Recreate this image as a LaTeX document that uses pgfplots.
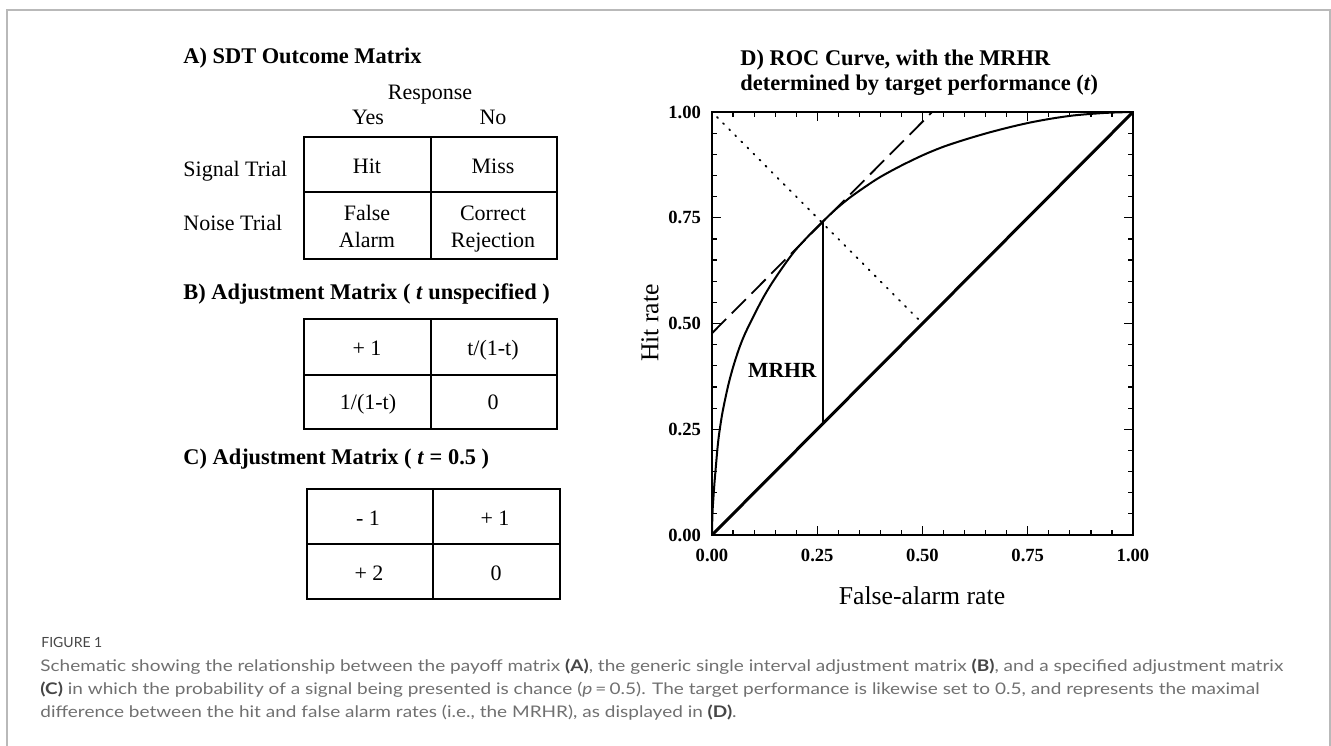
\documentclass[border=0pt]{standalone}
\usepackage{pgfplots}
\pgfplotsset{compat=1.18}
\usepackage{fontspec}
\usepackage{graphicx}
\setmainfont{Liberation Serif}
\newfontfamily\capfont{Lato}
\definecolor{framegray}{RGB}{185,185,185}
\definecolor{captext}{RGB}{112,112,112}
\definecolor{capbold}{RGB}{70,70,70}
\newcommand\titlefont{\fontsize{11.2}{13}\selectfont\bfseries}
\newcommand\bodyfont{\fontsize{11}{13}\selectfont}
\newcommand\capsize{\capfont\fontsize{8}{10}\selectfont}
\newsavebox\capbox
\newlength\capw
\begin{document}%
\sbox\capbox{\capsize Schematic showing the relationship between the payoff matrix \textbf{(A)}, the generic single interval adjustment matrix \textbf{(B)}, and a specified adjustment matrix}%
\setlength\capw{\wd\capbox}%
\pgfmathsetmacro\capsx{621.5pt/\capw}%
\begin{tikzpicture}
\begin{scope}[x=0.5pt,y=-0.5pt]
\path[use as bounding box] (0,0) rectangle (1331,745);
\draw[framegray, line width=0.75pt] (7,746)--(7,10)--(1330,10)--(1330,746);

% ---------- Panel A ----------
\node[anchor=base west, inner sep=0] at (183,63) {\titlefont A) SDT Outcome Matrix};
\node[anchor=base, inner sep=0] at (430,99) {\bodyfont Response};
\node[anchor=base, inner sep=0] at (368,124) {\bodyfont Yes};
\node[anchor=base, inner sep=0] at (493,124) {\bodyfont No};
\node[anchor=base west, inner sep=0] at (183,176) {\bodyfont Signal Trial};
\node[anchor=base west, inner sep=0] at (183,230) {\bodyfont Noise Trial};
\draw[line width=1pt] (304,137) rectangle (557,259);
\draw[line width=1pt] (304,192)--(557,192);
\draw[line width=1pt] (431,137)--(431,259);
\node[anchor=base, inner sep=0] at (367,173) {\bodyfont Hit};
\node[anchor=base, inner sep=0] at (493,173) {\bodyfont Miss};
\node[anchor=base, inner sep=0] at (367,220) {\bodyfont False};
\node[anchor=base, inner sep=0] at (367,247) {\bodyfont Alarm};
\node[anchor=base, inner sep=0] at (493,220) {\bodyfont Correct};
\node[anchor=base, inner sep=0] at (493,247) {\bodyfont Rejection};

% ---------- Panel B ----------
\node[anchor=base west, inner sep=0] at (183,299) {\titlefont B) Adjustment Matrix ( \textit{t} unspecified )};
\draw[line width=1pt] (304,319) rectangle (557,429);
\draw[line width=1pt] (304,375)--(557,375);
\draw[line width=1pt] (431,319)--(431,429);
\node[anchor=base, inner sep=0] at (367,355) {\bodyfont + 1};
\node[anchor=base, inner sep=0] at (493,355) {\bodyfont t/(1-t)};
\node[anchor=base, inner sep=0] at (368,409) {\bodyfont 1/(1-t)};
\node[anchor=base, inner sep=0] at (493,409) {\bodyfont 0};

% ---------- Panel C ----------
\node[anchor=base west, inner sep=0] at (183,464) {\titlefont C) Adjustment Matrix ( \textit{t} = 0.5 )};
\draw[line width=1pt] (307,489) rectangle (560,599);
\draw[line width=1pt] (307,544)--(560,544);
\draw[line width=1pt] (433,489)--(433,599);
\node[anchor=base, inner sep=0] at (368,525) {\bodyfont - 1};
\node[anchor=base, inner sep=0] at (495,525) {\bodyfont + 1};
\node[anchor=base, inner sep=0] at (369,580) {\bodyfont + 2};
\node[anchor=base, inner sep=0] at (496,580) {\bodyfont 0};

% ---------- Panel D texts ----------
\node[anchor=base west, inner sep=0] at (740,65) {\titlefont D) ROC Curve, with the MRHR};
\node[anchor=base west, inner sep=0] at (740,90) {\titlefont determined by target performance (\textit{t})};
\node[inner sep=0] at (922,596) {\fontsize{12.85}{15}\selectfont False-alarm rate};
\node[inner sep=0, rotate=90] at (650,323) {\fontsize{12.85}{15}\selectfont Hit rate};

% ---------- Caption ----------
\node[anchor=base west, inner sep=0, text=capbold] at (41,647) {\capfont\fontsize{7}{9}\selectfont FIGURE 1};
\node[anchor=base west, inner sep=0, text=captext] at (40,671) {\scalebox{\capsx}[1]{\capsize Schematic showing the relationship between the payoff matrix \textcolor{capbold}{\textbf{(A)}}, the generic single interval adjustment matrix \textcolor{capbold}{\textbf{(B)}}, and a specified adjustment matrix}};
\node[anchor=base west, inner sep=0, text=captext] at (40,694) {\scalebox{\capsx}[1]{\capsize \textcolor{capbold}{\textbf{(C)}} in which the probability of a signal being presented is chance (\textit{p}\,=\,0.5). The target performance is likewise set to 0.5, and represents the maximal}};
\node[anchor=base west, inner sep=0, text=captext] at (40,717) {\scalebox{\capsx}[1]{\capsize difference between the hit and false alarm rates (i.e., the MRHR), as displayed in \textcolor{capbold}{\textbf{(D)}}.}};
\end{scope}

\begin{axis}[
  at={(356pt,-267.5pt)}, anchor=south west,
  width=210.5pt, height=211.5pt, scale only axis,
  xmin=0, xmax=1, ymin=0, ymax=1,
  xtick={0,0.25,0.5,0.75,1}, ytick={0,0.25,0.5,0.75,1},
  minor tick num=4,
  tick align=inside,
  major tick length=4.5pt, minor tick length=2.5pt,
  axis line style={line width=1pt},
  tick style={black, line width=0.6pt},
  ticklabel style={font=\fontsize{9.3}{11}\selectfont\bfseries},
  xticklabel style={yshift=-3.5pt},
  yticklabel style={xshift=-2pt},
  /pgf/number format/fixed,
  /pgf/number format/fixed zerofill,
  /pgf/number format/precision=2,
  /pgf/number format/assume math mode=true,
]
\addplot[black, line width=1.5pt] coordinates {(0,0) (1,1)};
\addplot[black, line width=1pt, smooth] coordinates {
(0,0) (0.0005,0.03) (0.0015,0.06) (0.003,0.083) (0.006,0.125) (0.009,0.16)
(0.013,0.205) (0.017,0.24) (0.024,0.285) (0.031,0.32) (0.04,0.36) (0.051,0.40)
(0.064,0.44) (0.078,0.475) (0.10,0.52) (0.121,0.56) (0.142,0.595) (0.17,0.636)
(0.197,0.672) (0.23,0.708) (0.263,0.741) (0.295,0.771) (0.328,0.798) (0.365,0.824)
(0.399,0.846) (0.447,0.872) (0.501,0.898) (0.55,0.918) (0.605,0.936) (0.66,0.952)
(0.715,0.966) (0.76,0.976) (0.81,0.985) (0.86,0.992) (0.92,0.997) (0.96,0.999) (1,1)};
\addplot[black, line width=1pt] coordinates {(0.263,0.263) (0.263,0.741)};
\addplot[black, line width=0.9pt, dash pattern=on 10pt off 4pt] coordinates {(0,0.477) (0.523,1)};
\addplot[black, line width=0.9pt, dash pattern=on 0.6pt off 3.7pt, line cap=round] coordinates {(0.012,0.988) (0.49,0.51)};
\node[inner sep=0] at (axis cs:0.167,0.39) {\fontsize{10.8}{13}\selectfont\bfseries MRHR};
\end{axis}
\end{tikzpicture}%
\end{document}
